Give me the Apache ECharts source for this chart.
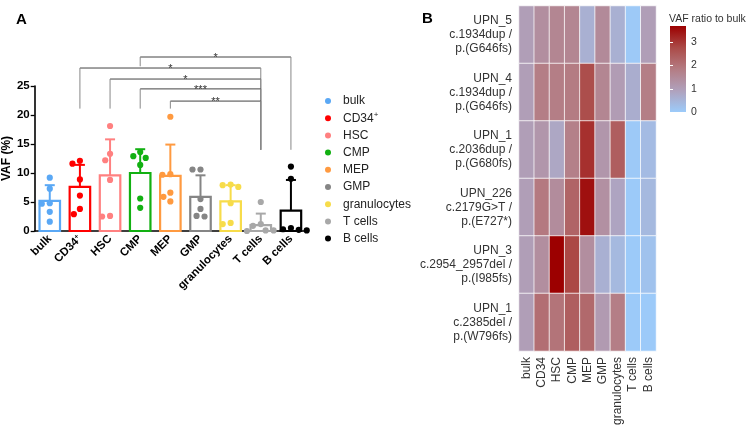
<!DOCTYPE html>
<html><head><meta charset="utf-8">
<script src="https://cdn.jsdelivr.net/npm/echarts@6/dist/echarts.min.js"></script>
<style>html,body{margin:0;padding:0;background:#fff}#c{width:749px;height:428px}</style>
</head><body><div id="c"></div>
<script>
// ---------- Panel A data ----------
const cellTypes = ['bulk','CD34+','HSC','CMP','MEP','GMP','granulocytes','T cells','B cells'];
const meanVAF   = [5.2, 7.6, 9.6, 10.0, 9.5, 5.9, 5.1, 1.0, 3.5];
const sdTopVAF  = [7.9, 11.4, 15.8, 14.1, 14.9, 9.6, 7.9, 3.0, 8.8];
const ptsBulk = [9.2, 7.3, 4.7, 4.8, 3.3, 1.6];
const ptsCD34 = [12.1, 11.6, 8.9, 6.1, 3.8, 2.9];
const ptsHSC  = [18.1, 13.3, 12.2, 8.8, 2.6, 2.5];
const ptsCMP  = [13.6, 12.9, 12.6, 11.4, 5.6, 4.0];
const ptsMEP  = [19.7, 9.8, 9.7, 6.6, 5.9, 5.1];
const ptsGMP  = [10.6, 10.6, 5.5, 3.8, 2.6, 2.5];
const ptsGran = [8.0, 7.9, 7.6, 4.8, 1.4, 1.2];
const ptsT    = [5.0, 1.2, 0.9, 0.1, 0.0, 0.1];
const ptsB    = [11.1, 9.0, 0.5, 0.3, 0.2, 0.1];
const vafPoints = [ptsBulk, ptsCD34, ptsHSC, ptsCMP, ptsMEP, ptsGMP, ptsGran, ptsT, ptsB];
// significance comparisons
const sigFrom  = ['CMP', 'CD34+', 'HSC', 'CMP', 'MEP'];
const sigTo    = ['B cells', 'T cells', 'T cells', 'T cells', 'T cells'];
const sigLevel = [30.0, 28.1, 26.2, 24.5, 22.4];
const sigLeftEnd  = [28.4, 21.1, 21.1, 21.1, 21.1];
const sigRightEnd = [14.0, 14.0, 14.0, 14.0, 14.0];
const sigLabel = ['*', '*', '*', '***', '**'];

// ---------- Panel B data ----------
const hmColumns = ['bulk','CD34','HSC','CMP','MEP','GMP','granulocytes','T cells','B cells'];
const hmRows = ['UPN_5\nc.1934dup /\np.(G646fs)', 'UPN_4\nc.1934dup /\np.(G646fs)', 'UPN_1\nc.2036dup /\np.(G680fs)',
                'UPN_226\nc.2179G>T /\np.(E727*)', 'UPN_3\nc.2954_2957del /\np.(I985fs)', 'UPN_1\nc.2385del /\np.(W796fs)'];
const ratioUPN5   = [1.0, 1.4, 1.6, 1.6, 0.6, 1.5, 0.6, 0.05, 1.0];
const ratioUPN4   = [1.0, 1.8, 1.8, 1.85, 2.7, 1.6, 1.05, 0.65, 1.8];
const ratioUPN1a  = [1.0, 1.2, 0.8, 1.75, 3.1, 1.2, 2.4, 0.05, 0.35];
const ratioUPN226 = [1.0, 1.9, 1.45, 2.3, 3.5, 1.35, 0.85, 0.02, 0.4];
const ratioUPN3   = [1.0, 1.4, 3.7, 2.8, 1.4, 0.6, 0.4, 0.02, 0.2];
const ratioUPN1b  = [1.0, 2.1, 2.0, 2.4, 2.2, 1.1, 1.8, 0.02, 0.02];
const ratioRows = [ratioUPN5, ratioUPN4, ratioUPN1a, ratioUPN226, ratioUPN3, ratioUPN1b];
const ratioMin = 0, ratioMax = 3.7;
const ratioTicks = [0, 1, 2, 3];

// ---------- styles ----------
const cellColors = ['#5aa8f5', '#ff0000', '#ff8080', '#12b012', '#ff9a40', '#858585', '#f7dc4a', '#a8a8a8', '#000000'];
const rampColors = ['#9ccbfa', '#b0a1bc', '#b47c83', '#ab4a47', '#9c0000'];
const FONT = 'Liberation Sans, Arial, Helvetica, sans-serif';

const chart = echarts.init(document.getElementById('c'), null, {renderer: 'canvas'});

function renderCell(params, api) {
  const i = api.value(0);
  const base = api.coord([i, 0]);
  const mp = api.coord([i, api.value(1)]);
  const tp = api.coord([i, api.value(2)]);
  const bw = api.size([1, 0])[0] * 0.68;
  const color = api.visual('color');
  const ch = [];
  ch.push({type: 'rect', shape: {x: base[0] - bw / 2, y: mp[1], width: bw, height: base[1] - mp[1]},
           style: {fill: '#fff', stroke: color, lineWidth: 2.2}});
  ch.push({type: 'line', shape: {x1: mp[0], y1: mp[1], x2: tp[0], y2: tp[1]}, style: {stroke: color, lineWidth: 2}});
  ch.push({type: 'line', shape: {x1: tp[0] - 5, y1: tp[1], x2: tp[0] + 5, y2: tp[1]}, style: {stroke: color, lineWidth: 2}});
  // beeswarm placement of individual points
  const ys = [];
  for (let k = 3; k < 9; k++) { const v = api.value(k); if (v != null && !isNaN(v)) ys.push(api.coord([i, v])[1]); }
  ys.sort((a, b) => a - b);
  const D = 8, placed = [];
  for (const y of ys) {
    const cands = [0];
    for (const p of placed) {
      const dy = Math.abs(p.y - y);
      if (dy < D) { const dx = Math.sqrt(D * D - dy * dy); cands.push(p.x - dx, p.x + dx); }
    }
    cands.sort((a, b) => Math.abs(a) - Math.abs(b) || a - b);
    let x = 0;
    for (const c of cands) {
      if (placed.every(p => (p.x - c) * (p.x - c) + (p.y - y) * (p.y - y) >= D * D - 0.01)) { x = c; break; }
    }
    placed.push({x, y});
  }
  for (const p of placed) {
    ch.push({type: 'circle', shape: {cx: base[0] + p.x, cy: p.y, r: 3.1}, style: {fill: color}});
  }
  return {type: 'group', children: ch};
}

function renderSig(params, api) {
  const a = api.value(0), b = api.value(1), lv = api.value(2);
  const L = api.coord([a, lv]), R = api.coord([b, lv]);
  const Lb = api.coord([a, api.value(3)]), Rb = api.coord([b, api.value(4)]);
  return {type: 'group', children: [
    {type: 'line', shape: {x1: L[0], y1: L[1], x2: R[0], y2: R[1]}, style: {stroke: '#444', lineWidth: 1}},
    {type: 'line', shape: {x1: L[0], y1: L[1], x2: Lb[0], y2: Lb[1]}, style: {stroke: '#888', lineWidth: 1}},
    {type: 'line', shape: {x1: R[0], y1: R[1], x2: Rb[0], y2: Rb[1]}, style: {stroke: '#888', lineWidth: 1}},
    {type: 'text', style: {text: sigLabel[params.dataIndex], x: (L[0] + R[0]) / 2, y: L[1] + 1,
       align: 'center', verticalAlign: 'middle', fontSize: 11, fontFamily: FONT, fill: '#333'}}
  ]};
}

function renderBar(params, api) {
  const p0 = api.coord([0, ratioMin]), p1 = api.coord([1, ratioMax]);
  const stops = rampColors.map((c, k) => ({offset: k / (rampColors.length - 1), color: c}));
  return {type: 'rect', shape: {x: p0[0], y: p1[1], width: p1[0] - p0[0], height: p0[1] - p1[1]},
          style: {fill: new echarts.graphic.LinearGradient(0, 1, 0, 0, stops)}};
}

const cellSeries = cellTypes.map((name, i) => ({
  type: 'custom', name: name, xAxisIndex: 0, yAxisIndex: 0,
  itemStyle: {color: cellColors[i]},
  dimensions: ['x', 'mean', 'top', 'p1', 'p2', 'p3', 'p4', 'p5', 'p6'],
  encode: {x: 0, y: 1},
  renderItem: renderCell, clip: false,
  data: [[i, meanVAF[i], sdTopVAF[i]].concat(vafPoints[i])]
}));

const hmData = [];
ratioRows.forEach((row, r) => row.forEach((v, c) => hmData.push([c, r, v])));

const supFmt = v => v === 'CD34+' ? '{n|CD34}{s|+}' : v;

const option = {
  backgroundColor: '#fff',
  animation: false,
  textStyle: {fontFamily: FONT},
  title: [
    {text: 'A', left: 11, top: 7, textStyle: {fontSize: 15, fontWeight: 'bold', color: '#000', fontFamily: FONT}},
    {text: 'B', left: 417, top: 6, textStyle: {fontSize: 15, fontWeight: 'bold', color: '#000', fontFamily: FONT}},
    {text: 'VAF ratio to bulk', left: 664, top: 9, textStyle: {fontSize: 10.5, fontWeight: 'normal', color: '#333', fontFamily: FONT}}
  ],
  grid: [
    {left: 33, top: 86, right: 443, bottom: 197, containLabel: false},
    {left: 519, top: 6, width: 137, height: 348, containLabel: false},
    {left: 670, top: 26, width: 16, height: 86, containLabel: false}
  ],
  legend: {
    orient: 'vertical', left: 320, top: 89, itemWidth: 20, itemHeight: 6, itemGap: 3.2, icon: 'circle',
    data: cellTypes, selectedMode: false,
    formatter: supFmt,
    textStyle: {fontSize: 12, color: '#222', fontFamily: FONT, lineHeight: 14,
      rich: {n: {fontSize: 12, lineHeight: 14, color: '#222'}, s: {fontSize: 8, lineHeight: 14, verticalAlign: 'top', color: '#222'}}}
  },
  xAxis: [
    {gridIndex: 0, type: 'category', data: cellTypes, boundaryGap: true,
     axisLine: {lineStyle: {color: '#000', width: 1.6}},
     axisTick: {alignWithLabel: true, length: 4, lineStyle: {color: '#000', width: 1.3}},
     axisLabel: {interval: 0, rotate: 45, margin: 6, fontSize: 11.5, fontWeight: 'bold', color: '#000', fontFamily: FONT,
       formatter: supFmt,
       rich: {n: {fontSize: 11.5, fontWeight: 'bold', color: '#000'}, s: {fontSize: 7, fontWeight: 'bold', verticalAlign: 'top', color: '#000'}}},
     splitLine: {show: false}},
    {gridIndex: 1, type: 'category', data: hmColumns, position: 'bottom',
     axisLine: {show: false}, axisTick: {show: false},
     axisLabel: {interval: 0, rotate: 90, margin: 6, fontSize: 12, color: '#333', fontFamily: FONT},
     splitLine: {show: false}},
    {gridIndex: 2, type: 'value', min: 0, max: 1, show: false}
  ],
  yAxis: [
    {gridIndex: 0, type: 'value', min: 0, max: 25, interval: 5,
     name: 'VAF (%)', nameLocation: 'middle', nameGap: 20,
     nameTextStyle: {fontSize: 12, fontWeight: 'bold', color: '#000', fontFamily: FONT},
     axisLine: {show: true, lineStyle: {color: '#000', width: 1.6}},
     axisTick: {show: true, length: 4, lineStyle: {color: '#000', width: 1.3}},
     axisLabel: {fontSize: 11.5, fontWeight: 'bold', color: '#000', margin: 5, fontFamily: FONT},
     splitLine: {show: false}},
    {gridIndex: 1, type: 'category', data: hmRows, inverse: true,
     axisLine: {show: false}, axisTick: {show: false},
     axisLabel: {interval: 0, margin: 7, fontSize: 12, lineHeight: 14, color: '#333', align: 'right', fontFamily: FONT},
     splitLine: {show: false}},
    {gridIndex: 2, type: 'value', min: ratioMin, max: ratioMax, position: 'right', z: 10,
     axisLine: {show: false},
     axisTick: {show: true, inside: true, length: 3, customValues: [1, 2, 3], lineStyle: {color: '#fff', width: 1}},
     axisLabel: {show: true, margin: 5, fontSize: 10.5, color: '#333', customValues: ratioTicks, fontFamily: FONT},
     splitLine: {show: false}},
    {gridIndex: 2, type: 'value', min: ratioMin, max: ratioMax, position: 'left', z: 10,
     axisLine: {show: false},
     axisTick: {show: true, inside: true, length: 3, customValues: [1, 2, 3], lineStyle: {color: '#fff', width: 1}},
     axisLabel: {show: false}, splitLine: {show: false}}
  ],
  visualMap: {
    type: 'continuous', show: false, seriesIndex: cellTypes.length + 1, dimension: 2,
    min: ratioMin, max: ratioMax, inRange: {color: rampColors}
  },
  series: cellSeries.concat([
    {type: 'custom', name: 'sig', xAxisIndex: 0, yAxisIndex: 0, clip: false, renderItem: renderSig, silent: true,
     encode: {x: 0, y: 2},
     data: sigFrom.map((f, k) => [cellTypes.indexOf(f), cellTypes.indexOf(sigTo[k]), sigLevel[k], sigLeftEnd[k], sigRightEnd[k]])},
    {type: 'heatmap', name: 'ratio', xAxisIndex: 1, yAxisIndex: 1, data: hmData,
     itemStyle: {borderColor: 'rgba(255,255,255,0.75)', borderWidth: 1}},
    {type: 'custom', name: 'colorbar', xAxisIndex: 2, yAxisIndex: 2, renderItem: renderBar, silent: true,
     data: [[0, 0]]}
  ])
};
chart.setOption(option);
</script></body></html>
